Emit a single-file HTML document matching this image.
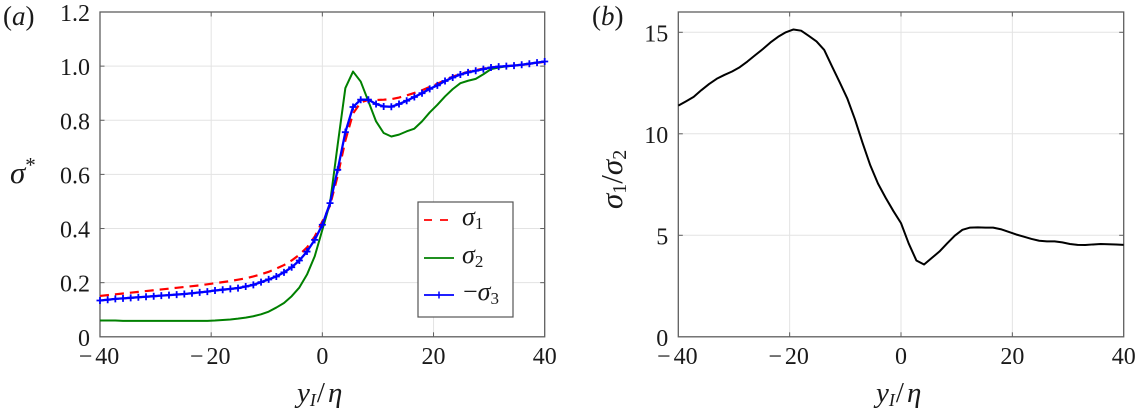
<!DOCTYPE html>
<html lang="en">
<head>
<meta charset="utf-8">
<title>Stress profiles</title>
<style>
html,body{margin:0;padding:0;background:#fff;}
svg{display:block;}
text{font-family:"Liberation Serif",serif;fill:#1a1a1a;}
.it{font-style:italic;}
</style>
</head>
<body>
<svg id="fig" width="1137" height="415" viewBox="0 0 1137 415" xmlns="http://www.w3.org/2000/svg">
  <text x="3" y="25" font-size="27">(<tspan class="it">a</tspan>)</text>
  <text x="592" y="25" font-size="27">(<tspan class="it">b</tspan>)</text>
  <text x="10" y="183" font-size="31" class="it">σ<tspan font-size="21" dy="-11" font-style="normal">*</tspan></text>
  <text x="297" y="402" font-size="29"><tspan class="it">y</tspan><tspan class="it" font-size="18" dy="4">I</tspan><tspan dy="-4" dx="1">/</tspan><tspan class="it" dx="3">η</tspan></text>
  <text x="876" y="402" font-size="29"><tspan class="it">y</tspan><tspan class="it" font-size="18" dy="4">I</tspan><tspan dy="-4" dx="1">/</tspan><tspan class="it" dx="3">η</tspan></text>
  <text transform="translate(622,209) rotate(-90)" font-size="31"><tspan class="it">σ</tspan><tspan font-size="20" dy="4">1</tspan><tspan dy="-4">/</tspan><tspan class="it">σ</tspan><tspan font-size="20" dy="4">2</tspan></text>
  <g id="panel-a"></g>
  <g id="panel-b"></g>
  <g id="legend">
    <rect x="418" y="202" width="95" height="115" fill="#fff" stroke="#555" stroke-width="1.2"/>
    <line x1="424" y1="220" x2="448" y2="220" stroke="#ff0000" stroke-width="1.8" stroke-dasharray="8 8"/>
    <text x="462" y="225" font-size="26"><tspan class="it">σ</tspan><tspan font-size="17" dy="4">1</tspan></text>
    <line x1="424" y1="258" x2="454" y2="258" stroke="#008000" stroke-width="1.8"/>
    <text x="462" y="263" font-size="26"><tspan class="it">σ</tspan><tspan font-size="17" dy="4">2</tspan></text>
    <line x1="424" y1="295" x2="454" y2="295" stroke="#0000ff" stroke-width="1.8"/>
    <line x1="439" y1="291.5" x2="439" y2="298.5" stroke="#0000ff" stroke-width="1.5"/>
    <text x="463" y="300" font-size="26">−<tspan class="it">σ</tspan><tspan font-size="17" dy="4">3</tspan></text>
  </g>
</svg>
<script>
const xValues = [-40,-38.62,-37.24,-35.86,-34.48,-33.10,-31.72,-30.34,-28.97,-27.59,-26.21,-24.83,-23.45,-22.07,-20.69,-19.31,-17.93,-16.55,-15.17,-13.79,-12.41,-11.03,-9.66,-8.28,-6.90,-5.52,-4.14,-2.76,-1.38,0,1.38,2.76,4.14,5.52,6.90,8.28,9.66,11.03,12.41,13.79,15.17,16.55,17.93,19.31,20.69,22.07,23.45,24.83,26.21,27.59,28.97,30.34,31.72,33.10,34.48,35.86,37.24,38.62,40];
const sigma1 = [.151,.154,.157,.160,.163,.166,.169,.172,.175,.178,.181,.184,.187,.190,.194,.198,.202,.206,.211,.216,.223,.231,.240,.252,.265,.282,.303,.330,.370,.426,.485,.595,.725,.825,.866,.875,.875,.876,.878,.884,.892,.901,.911,.923,.935,.948,.961,.971,.979,.985,.991,.995,.998,1.0,1.002,1.005,1.008,1.012,1.016];
const sigma2 = [.060,.060,.060,.059,.059,.059,.059,.059,.059,.059,.059,.059,.059,.059,.059,.060,.062,.064,.067,.071,.076,.083,.093,.108,.125,.150,.182,.230,.297,.395,.494,.710,.919,.980,.943,.870,.796,.753,.740,.747,.759,.769,.796,.829,.857,.888,.915,.937,.946,.953,.970,.989,.995,.999,1.002,1.005,1.009,1.013,1.017];
const sigma3 = [.134,.137,.140,.142,.144,.146,.148,.150,.152,.154,.156,.158,.161,.164,.167,.171,.174,.177,.180,.186,.192,.202,.212,.223,.238,.257,.282,.315,.358,.414,.494,.617,.756,.849,.876,.876,.860,.851,.850,.860,.872,.886,.900,.916,.929,.945,.958,.969,.977,.983,.989,.995,.998,1.0,1.002,1.005,1.009,1.013,1.017];
const ratio = [11.39,11.6,11.82,12.15,12.45,12.71,12.90,13.07,13.28,13.56,13.87,14.17,14.50,14.78,15.0,15.14,15.08,14.82,14.55,14.13,13.33,12.55,11.75,10.72,9.55,8.45,7.55,6.85,6.2,5.6,4.6,3.76,3.56,3.88,4.2,4.6,4.98,5.27,5.38,5.39,5.38,5.38,5.3,5.17,5.04,4.93,4.82,4.73,4.70,4.70,4.65,4.57,4.53,4.52,4.55,4.57,4.56,4.55,4.53];
const xTicks = [-40,-20,0,20,40];
const yTicksA = [0,0.2,0.4,0.6,0.8,1.0,1.2];
const yTickLabelsA = ['0','0.2','0.4','0.6','0.8','1.0','1.2'];
const yTicksB = [0,5,10,15];
const yTickLabelsB = ['0','5','10','15'];

const NS = 'http://www.w3.org/2000/svg';
function make(parent, tag, attrs, txt) {
  const el = document.createElementNS(NS, tag);
  for (const k in attrs) el.setAttribute(k, attrs[k]);
  if (txt !== undefined) el.textContent = txt;
  parent.appendChild(el);
  return el;
}

function drawAxes(g, box, xs, ys, yT, yL) {
  xTicks.forEach(function (v) {
    if (v === -40 || v === 40) return;
    const grid = make(g, 'line', {x1: xs(v), x2: xs(v), y1: box.top, y2: box.bottom, stroke: '#e3e3e3', 'stroke-width': 1});
    
    
  });
  yT.forEach(function (v, i) {
    if (i === 0 || ys(v) <= box.top + 0.5) return;
    const grid = make(g, 'line', {x1: box.left, x2: box.right, y1: ys(v), y2: ys(v), stroke: '#e3e3e3', 'stroke-width': 1});
    
    
  });
  const frame = make(g, 'rect', {x: box.left, y: box.top, width: box.right - box.left, height: box.bottom - box.top, fill: 'none', stroke: '#5f5f5f', 'stroke-width': 1.3});
  
  
  xTicks.forEach(function (v) {
    if (v !== -40 && v !== 40) {
      const t1 = make(g, 'line', {x1: xs(v), x2: xs(v), y1: box.bottom, y2: box.bottom - 4.5, stroke: '#5f5f5f', 'stroke-width': 1});
      
      
      const t2 = make(g, 'line', {x1: xs(v), x2: xs(v), y1: box.top, y2: box.top + 4.5, stroke: '#5f5f5f', 'stroke-width': 1});
      
      
    }
    const lab = make(g, 'text', {x: xs(v) - (v < 0 ? 1 : 0), y: 364, 'font-size': 24, 'text-anchor': 'middle'});
    if (v < 0) {
      const minus = make(lab, 'tspan', {}, '\u2212');
      
      
      const digits = make(lab, 'tspan', {dx: 3}, String(Math.abs(v)));
      
      
    } else {
      lab.textContent = String(v);
    }
    
    
  });
  yT.forEach(function (v, i) {
    if (i !== 0 && ys(v) > box.top + 0.5) {
      const t1 = make(g, 'line', {x1: box.left, x2: box.left + 4.5, y1: ys(v), y2: ys(v), stroke: '#5f5f5f', 'stroke-width': 1});
      
      
      const t2 = make(g, 'line', {x1: box.right, x2: box.right - 4.5, y1: ys(v), y2: ys(v), stroke: '#5f5f5f', 'stroke-width': 1});
      
      
    }
    const lab = make(g, 'text', {x: box.left - 10, y: ys(v) + 9, 'font-size': 24, 'text-anchor': 'end'}, yL[i]);
    
    
  });
}
function pathFrom(xVals, yVals, xs, ys) {
  return xVals.map(function (x, i) { return (i ? 'L' : 'M') + xs(x).toFixed(2) + ' ' + ys(yVals[i]).toFixed(2); }).join('');
}

const boxA = {left: 100, right: 544.7, top: 12, bottom: 336.8};
const boxB = {left: 678.3, right: 1123.7, top: 12, bottom: 336.8};
const xA = function (v) { return boxA.left + (v + 40) / 80 * (boxA.right - boxA.left); };
const yA = function (v) { return boxA.bottom - v / 1.2 * (boxA.bottom - boxA.top); };
const xB = function (v) { return boxB.left + (v + 40) / 80 * (boxB.right - boxB.left); };
const yB = function (v) { return boxB.bottom - v / 16 * (boxB.bottom - boxB.top); };

const gA = document.getElementById('panel-a');
const gB = document.getElementById('panel-b');
drawAxes(gA, boxA, xA, yA, yTicksA, yTickLabelsA);
drawAxes(gB, boxB, xB, yB, yTicksB, yTickLabelsB);

const lineS1 = make(gA, 'path', {d: pathFrom(xValues, sigma1, xA, yA), fill: 'none', stroke: '#ff0000', 'stroke-width': 2.2, 'stroke-dasharray': '9 6'});


const lineS2 = make(gA, 'path', {d: pathFrom(xValues, sigma2, xA, yA), fill: 'none', stroke: '#008000', 'stroke-width': 2, 'stroke-linejoin': 'round'});


const lineS3 = make(gA, 'path', {d: pathFrom(xValues, sigma3, xA, yA), fill: 'none', stroke: '#0000ff', 'stroke-width': 2.3, 'stroke-linejoin': 'round'});


xValues.forEach(function (x, i) {
  const px = xA(x), py = yA(sigma3[i]), r = 3.5;
  const m = make(gA, 'path', {d: 'M' + (px - r) + ' ' + py + 'H' + (px + r) + 'M' + px + ' ' + (py - r) + 'V' + (py + r), stroke: '#0000ff', 'stroke-width': 1.8, fill: 'none'});
  
  
});
const lineR = make(gB, 'path', {d: pathFrom(xValues, ratio, xB, yB), fill: 'none', stroke: '#000', 'stroke-width': 2, 'stroke-linejoin': 'round'});


</script>
</body>
</html>
